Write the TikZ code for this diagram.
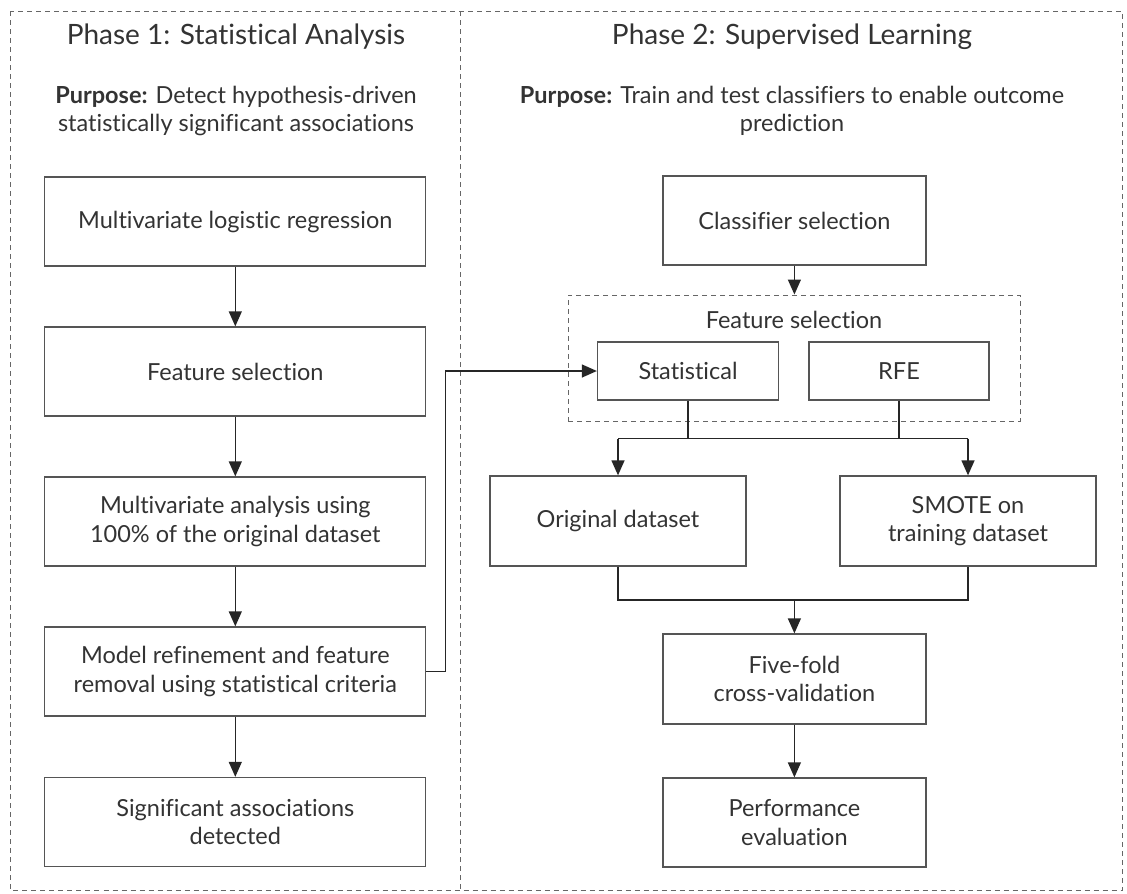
\documentclass[tikz,border=0pt]{standalone}
\usepackage{fontspec}
\setmainfont{Lato}[Ligatures=NoCommon]
\usetikzlibrary{arrows.meta,fit}
\definecolor{txt}{HTML}{333333}
\definecolor{bord}{HTML}{555555}
\definecolor{dash}{HTML}{666666}
\tikzset{
  box/.style={draw=bord, line width=1.3pt, text=txt, align=center, font=\fontsize{23.5}{28.5}\selectfont, inner sep=0pt},
  lbox/.style={box, minimum width=381pt, minimum height=89pt},
  arr/.style={draw=black!85, line width=1.3pt, -{Triangle[length=15pt,width=13pt]}},
  ln/.style={draw=black!85, line width=1.3pt},
  dashbox/.style={draw=dash, line width=1pt, dash pattern=on 5pt off 4pt},
  ttl/.style={text=txt, font=\fontsize{28}{32}\selectfont, inner sep=0pt},
  purp/.style={text=txt, align=center, font=\fontsize{23.5}{28}\selectfont, inner sep=0pt},
}
\begin{document}
\begin{tikzpicture}[x=1pt,y=-1pt]
\useasboundingbox (0,0) rectangle (1127,894);
% outer frame
\draw[dashbox] (10.5,11) rectangle (1122,890);
\draw[dashbox] (460.5,11) -- (460.5,890);
% titles
\node[ttl] (t1) at (236,37) {Phase 1: Statistical Analysis};
\node[ttl] (t2) at (792,37) {Phase 2: Supervised Learning};
\node[purp] (p1) at (236,111) {{\bfseries Purpose:} Detect hypothesis-driven\\statistically significant associations};
\node[purp] (p2) at (792,111) {{\bfseries Purpose:} Train and test classifiers to enable outcome\\prediction};
% left column
\node[lbox] (b1) at (235.3,221.5) {Multivariate logistic regression};
\node[lbox] (b2) at (235.3,371.5) {Feature selection};
\node[lbox] (b3) at (235.3,521.5) {Multivariate analysis using\\100\% of the original dataset};
\node[lbox] (b4) at (235.3,671.5) {Model refinement and feature\\removal using statistical criteria};
\node[lbox] (b5) at (235.3,822) {Significant associations\\detected};
\draw[arr] (b1) -- (b2);
\draw[arr] (b2) -- (b3);
\draw[arr] (b3) -- (b4);
\draw[arr] (b4) -- (b5);
% right column
\node[box, minimum width=263pt, minimum height=89pt] (cls) at (794.4,220.5) {Classifier selection};
\node[box, minimum width=181pt, minimum height=58pt] (stat) at (688,371) {Statistical};
\node[box, minimum width=180pt, minimum height=58pt] (rfe) at (899,371) {RFE};
\coordinate (fsTL) at (568,295);
\coordinate (fsBR) at (1020,421);
\node[dashbox, fit=(fsTL)(fsBR), inner sep=0pt] (fs) {};
\node[purp] (fslab) at (794,320) {Feature selection};
\node[box, minimum width=256pt, minimum height=90pt] (orig) at (618,521) {Original dataset};
\node[box, minimum width=256pt, minimum height=90pt] (smote) at (968,521) {SMOTE on\\training dataset};
\node[box, minimum width=263pt, minimum height=90pt] (ff) at (794.4,679) {Five-fold\\cross-validation};
\node[box, minimum width=263pt, minimum height=89pt] (perf) at (794.4,822.5) {Performance\\evaluation};
\draw[arr] (cls.south) -- (cls.south |- fs.north);
% cross link
\coordinate (jog) at (445.7,371);
\draw[arr] (b4.east) -| (jog) -- (stat.west);
% split
\coordinate (split) at (794,438.5);
\draw[ln] (stat.south) -- (stat.south |- split);
\draw[ln] (rfe.south) -- (rfe.south |- split);
\draw[ln] (orig.north |- split) -- (smote.north |- split);
\draw[arr] (orig.north |- split) -- (orig.north);
\draw[arr] (smote.north |- split) -- (smote.north);
% merge
\coordinate (merge) at (794.4,600);
\draw[ln] (orig.south) -- (orig.south |- merge) -- (smote.south |- merge) -- (smote.south);
\draw[arr] (ff.north |- merge) -- (ff.north);
\draw[arr] (ff) -- (perf);
\end{tikzpicture}
\end{document}
